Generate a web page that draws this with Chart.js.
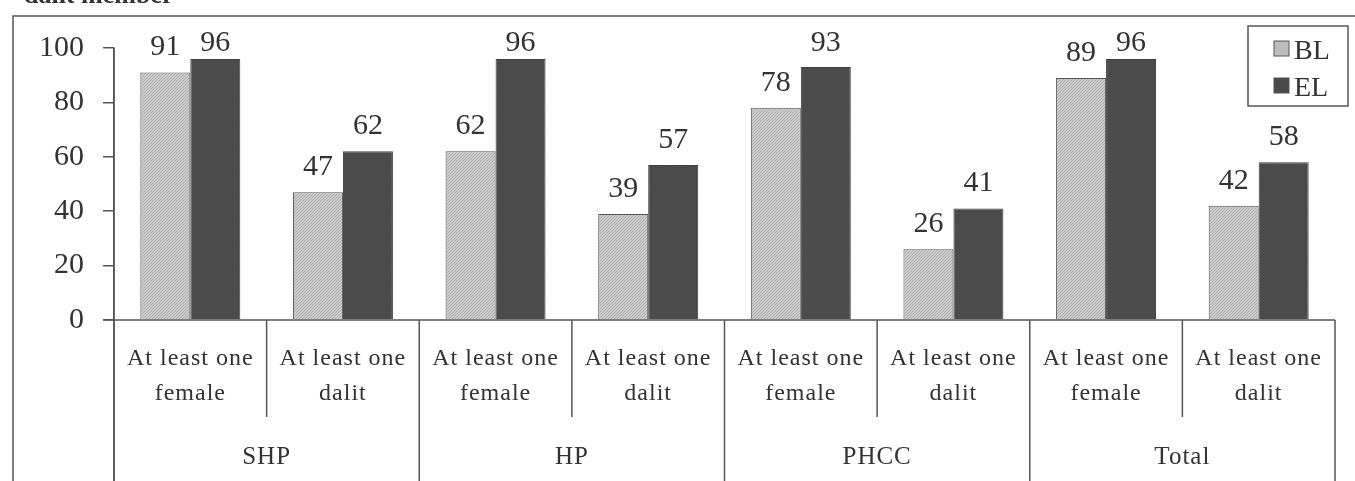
<!DOCTYPE html>
<html>
<head>
<meta charset="utf-8">
<script src="https://cdn.jsdelivr.net/npm/chart.js@4.4.0/dist/chart.umd.min.js"></script>
<style>
  html, body { margin: 0; padding: 0; background: #ffffff; }
  #wrap { width: 1355px; height: 481px; position: relative; }
</style>
</head>
<body>
<div id="wrap"><canvas id="c" width="1355" height="481"></canvas></div>
<script>
// ---- data ----
const groups = ['SHP', 'HP', 'PHCC', 'Total'];
const subLabels = [['At least one', 'female'], ['At least one', 'dalit']];
const seriesNames = ['BL', 'EL'];
const blValues = [91, 47, 62, 39, 78, 26, 89, 42];
const elValues = [96, 62, 96, 57, 93, 41, 96, 58];
const yTicks = [0, 20, 40, 60, 80, 100];
const topText = 'dalit member';

// categories built from groups x subLabels
const categories = [];
groups.forEach(g => subLabels.forEach(s => categories.push(s.concat([g]))));

const SERIF = '"Liberation Serif", "Times New Roman", serif';
const LINE = '#555555';
const TEXT = '#333333';

function makePattern(base, line, spacing) {
  const c = document.createElement('canvas');
  c.width = spacing; c.height = spacing;
  const x = c.getContext('2d');
  x.fillStyle = base; x.fillRect(0, 0, spacing, spacing);
  x.strokeStyle = line; x.lineWidth = 1;
  x.beginPath();
  x.moveTo(0, spacing); x.lineTo(spacing, 0);
  x.moveTo(-1, 1); x.lineTo(1, -1);
  x.moveTo(spacing - 1, spacing + 1); x.lineTo(spacing + 1, spacing - 1);
  x.stroke();
  return x.createPattern(c, 'repeat');
}
const blFill = makePattern('#cbcbcb', '#b0b0b0', 3);
const elFill = makePattern('#4e4e4e', '#454545', 3);
const fills = [blFill, elFill];
const legendColors = ['#bdbdbd', '#4a4a4a'];

const decor = {
  id: 'decor',
  beforeDraw(chart) {
    const ctx = chart.ctx;
    ctx.save();
    ctx.fillStyle = '#ffffff';
    ctx.fillRect(0, 0, chart.width, chart.height);
    // cut-off title text at the very top
    ctx.fillStyle = TEXT;
    ctx.font = 'bold 26px ' + SERIF;
    ctx.textBaseline = 'alphabetic';
    ctx.textAlign = 'left';
    ctx.fillText(topText, 24, 3);
    // outer frame (right & bottom run off the picture)
    ctx.strokeStyle = LINE;
    ctx.lineWidth = 1.5;
    ctx.strokeRect(13, 16, 1400, 520);
    ctx.restore();
  },
  afterDatasetsDraw(chart) {
    const ctx = chart.ctx;
    const xs = chart.scales.x, ys = chart.scales.y;
    const area = chart.chartArea;
    const y0 = ys.getPixelForValue(0);
    ctx.save();
    ctx.strokeStyle = LINE;
    ctx.lineWidth = 1.5;
    // x baseline
    ctx.beginPath();
    ctx.moveTo(area.left - 11, y0); ctx.lineTo(area.right, y0);
    ctx.stroke();
    // y axis line continued down through the table
    ctx.beginPath();
    ctx.moveTo(area.left, ys.getPixelForValue(100)); ctx.lineTo(area.left, chart.height);
    ctx.stroke();
    // category dividers
    const n = categories.length;
    const half = (xs.getPixelForValue(1) - xs.getPixelForValue(0)) / 2;
    for (let i = 0; i <= n; i++) {
      const xp = i < n ? xs.getPixelForValue(i) - half : xs.getPixelForValue(n - 1) + half;
      const full = (i % subLabels.length) === 0;
      ctx.beginPath();
      ctx.moveTo(xp, y0);
      ctx.lineTo(xp, full ? chart.height : y0 + 97);
      ctx.stroke();
    }
    // category labels
    ctx.fillStyle = TEXT;
    ctx.textAlign = 'center';
    ctx.textBaseline = 'alphabetic';
    ctx.font = '24px ' + SERIF;
    try { ctx.letterSpacing = '1px'; } catch (e) {}
    categories.forEach((c, i) => {
      const xp = xs.getPixelForValue(i);
      ctx.fillText(c[0], xp, y0 + 45);
      ctx.fillText(c[1], xp, y0 + 80);
    });
    // group labels
    ctx.font = '25px ' + SERIF;
    groups.forEach((g, gi) => {
      const a = xs.getPixelForValue(gi * subLabels.length);
      const b = xs.getPixelForValue(gi * subLabels.length + subLabels.length - 1);
      ctx.fillText(g, (a + b) / 2, y0 + 144);
    });
    try { ctx.letterSpacing = '0px'; } catch (e) {}
    // value labels
    ctx.font = '30px ' + SERIF;
    chart.data.datasets.forEach((ds, di) => {
      const meta = chart.getDatasetMeta(di);
      meta.data.forEach((bar, i) => {
        const yb = Math.max(bar.y - 17, 51);
        ctx.fillText(String(ds.data[i]), bar.x, yb);
      });
    });
    // legend
    ctx.lineWidth = 1.5;
    ctx.strokeRect(1248, 26, 100, 80);
    ctx.font = '28px ' + SERIF;
    ctx.textAlign = 'left';
    const rows = [59, 96];
    seriesNames.forEach((name, k) => {
      const cy = rows[k] - 11;
      ctx.fillStyle = legendColors[k];
      ctx.fillRect(1274, cy - 7, 15, 15);
      ctx.lineWidth = 1;
      ctx.strokeRect(1274, cy - 7, 15, 15);
      ctx.fillStyle = TEXT;
      ctx.fillText(name, 1294, rows[k]);
    });
    ctx.restore();
  }
};

new Chart(document.getElementById('c'), {
  type: 'bar',
  data: {
    labels: categories,
    datasets: [
      { label: seriesNames[0], data: blValues, backgroundColor: fills[0], borderColor: '#555555', borderWidth: 1 },
      { label: seriesNames[1], data: elValues, backgroundColor: fills[1], borderColor: '#3f3f3f', borderWidth: 1 }
    ]
  },
  options: {
    responsive: false,
    animation: false,
    events: [],
    layout: { padding: { left: 0, right: 20, top: 48, bottom: 161 } },
    datasets: { bar: { categoryPercentage: 0.655, barPercentage: 1.0 } },
    plugins: { legend: { display: false }, tooltip: { enabled: false }, title: { display: false } },
    scales: {
      x: { display: false },
      y: {
        min: 0, max: 100,
        afterBuildTicks(scale) { scale.ticks = yTicks.map(v => ({ value: v })); },
        afterFit(scale) { scale.width = 114; },
        ticks: { font: { family: SERIF, size: 30 }, color: TEXT, padding: 19 },
        grid: { drawOnChartArea: false, drawTicks: true, tickLength: 11, color: LINE, lineWidth: 1.5 },
        border: { display: true, color: LINE, width: 1.5 }
      }
    }
  },
  plugins: [decor]
});
</script>
</body>
</html>
